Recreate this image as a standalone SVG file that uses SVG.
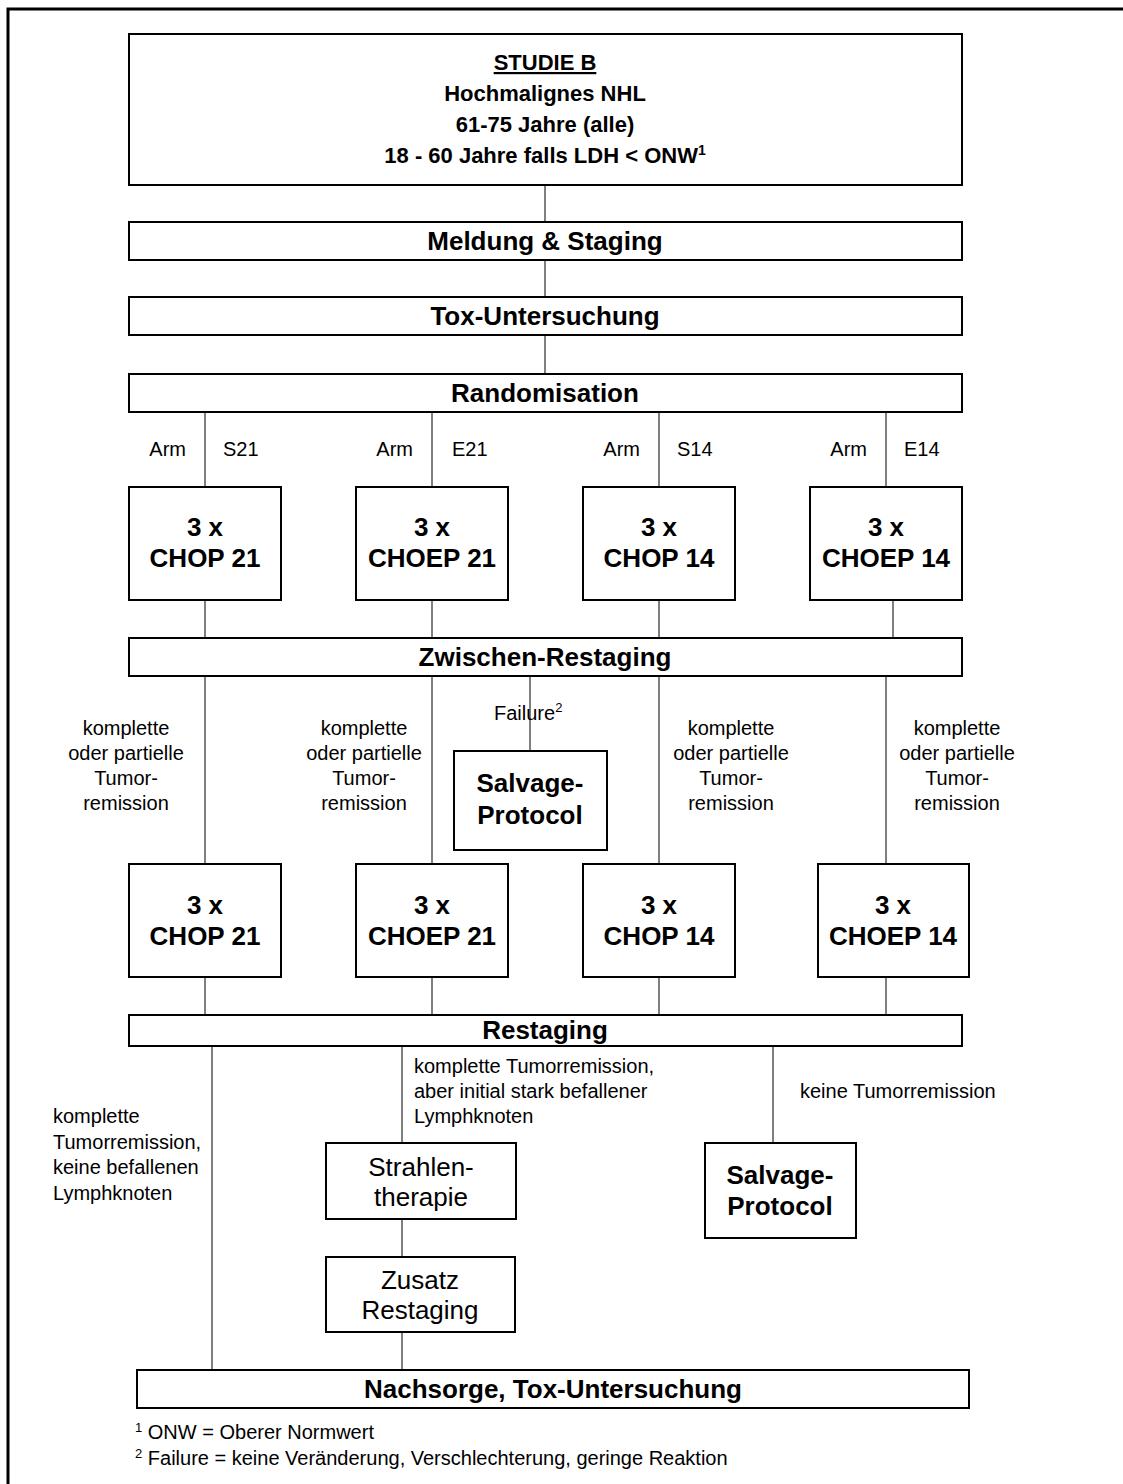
<svg xmlns="http://www.w3.org/2000/svg" width="1123" height="1484" viewBox="0 0 1123 1484">
  <style>
    .box { fill: #fff; stroke: #000; stroke-width: 2; }
    .frame { fill: none; stroke: #000; stroke-width: 3; }
    .wire { stroke: #000; stroke-width: 1; fill: none; }
    text { font-family: "Liberation Sans", Arial, sans-serif; fill: #000; }
    .title { font-size: 22px; font-weight: bold; text-anchor: middle; }
    .head { font-size: 26px; font-weight: bold; text-anchor: middle; }
    .plain { font-size: 26px; text-anchor: middle; }
    .lbl { font-size: 20px; }
    .mid { text-anchor: middle; }
    .end { text-anchor: end; }
    .note { font-size: 20px; }
  </style>

  <rect width="1123" height="1484" fill="#fff"/>
  <!-- page frame (open to the right and bottom) -->
  <path class="frame" d="M8 1484 V9 H1123"/>

  <!-- connectors -->
  <g id="connectors">
    <path class="wire" d="M545 185 V222 M545 260 V297 M545 335 V374"/>
    <path class="wire" d="M205 412 V487 M432 412 V487 M659 412 V487 M886 412 V487"/>
    <path class="wire" d="M205 600 V638 M432 600 V638 M659 600 V638 M893 600 V638"/>
    <path class="wire" d="M205 676 V864 M432 676 V864 M659 676 V864 M886 676 V864 M530 676 V751"/>
    <path class="wire" d="M205 977 V1015 M432 977 V1015 M659 977 V1015 M886 977 V1015"/>
    <path class="wire" d="M212 1046 V1370 M402 1046 V1143 M773 1046 V1143 M402 1219 V1257 M402 1332 V1370"/>
  </g>

  <g id="studie">
    <rect class="box" x="129" y="34" width="833" height="151"/>
    <text class="title" x="545" y="70" text-decoration="underline">STUDIE B</text>
    <text class="title" x="545" y="101">Hochmalignes NHL</text>
    <text class="title" x="545" y="132">61-75 Jahre (alle)</text>
    <text class="title" x="545" y="163">18 - 60 Jahre falls LDH &lt; ONW<tspan font-size="14" dy="-8">1</tspan></text>
  </g>

  <g id="meldung">
    <rect class="box" x="129" y="222" width="833" height="38"/>
    <text class="head" x="545" y="250">Meldung &amp; Staging</text>
  </g>

  <g id="tox">
    <rect class="box" x="129" y="297" width="833" height="38"/>
    <text class="head" x="545" y="325">Tox-Untersuchung</text>
  </g>

  <g id="randomisation">
    <rect class="box" x="129" y="374" width="833" height="38"/>
    <text class="head" x="545" y="402">Randomisation</text>
  </g>

  <g id="arm-labels">
    <text class="lbl end" x="186" y="456">Arm</text>
    <text class="lbl" x="223" y="456">S21</text>
    <text class="lbl end" x="413" y="456">Arm</text>
    <text class="lbl" x="452" y="456">E21</text>
    <text class="lbl end" x="640" y="456">Arm</text>
    <text class="lbl" x="677" y="456">S14</text>
    <text class="lbl end" x="867" y="456">Arm</text>
    <text class="lbl" x="904" y="456">E14</text>
  </g>

  <g id="s21-a">
    <rect class="box" x="129" y="487" width="152" height="113"/>
    <text class="head" x="205" y="536">3 x</text>
    <text class="head" x="205" y="567">CHOP 21</text>
  </g>
  <g id="e21-a">
    <rect class="box" x="356" y="487" width="152" height="113"/>
    <text class="head" x="432" y="536">3 x</text>
    <text class="head" x="432" y="567">CHOEP 21</text>
  </g>
  <g id="s14-a">
    <rect class="box" x="583" y="487" width="152" height="113"/>
    <text class="head" x="659" y="536">3 x</text>
    <text class="head" x="659" y="567">CHOP 14</text>
  </g>
  <g id="e14-a">
    <rect class="box" x="810" y="487" width="152" height="113"/>
    <text class="head" x="886" y="536">3 x</text>
    <text class="head" x="886" y="567">CHOEP 14</text>
  </g>

  <g id="zwischen">
    <rect class="box" x="129" y="638" width="833" height="38"/>
    <text class="head" x="545" y="666">Zwischen-Restaging</text>
  </g>

  <g id="remission-labels">
    <text class="lbl mid" x="126" y="735">komplette</text>
    <text class="lbl mid" x="126" y="760">oder partielle</text>
    <text class="lbl mid" x="126" y="785">Tumor-</text>
    <text class="lbl mid" x="126" y="810">remission</text>
    <text class="lbl mid" x="364" y="735">komplette</text>
    <text class="lbl mid" x="364" y="760">oder partielle</text>
    <text class="lbl mid" x="364" y="785">Tumor-</text>
    <text class="lbl mid" x="364" y="810">remission</text>
    <text class="lbl mid" x="731" y="735">komplette</text>
    <text class="lbl mid" x="731" y="760">oder partielle</text>
    <text class="lbl mid" x="731" y="785">Tumor-</text>
    <text class="lbl mid" x="731" y="810">remission</text>
    <text class="lbl mid" x="957" y="735">komplette</text>
    <text class="lbl mid" x="957" y="760">oder partielle</text>
    <text class="lbl mid" x="957" y="785">Tumor-</text>
    <text class="lbl mid" x="957" y="810">remission</text>
    <text class="lbl" x="494" y="720">Failure<tspan font-size="13" dy="-8">2</tspan></text>
  </g>

  <g id="salvage-a">
    <rect class="box" x="454" y="751" width="153" height="99"/>
    <text class="head" x="530" y="792">Salvage-</text>
    <text class="head" x="530" y="824">Protocol</text>
  </g>

  <g id="s21-b">
    <rect class="box" x="129" y="864" width="152" height="113"/>
    <text class="head" x="205" y="914">3 x</text>
    <text class="head" x="205" y="945">CHOP 21</text>
  </g>
  <g id="e21-b">
    <rect class="box" x="356" y="864" width="152" height="113"/>
    <text class="head" x="432" y="914">3 x</text>
    <text class="head" x="432" y="945">CHOEP 21</text>
  </g>
  <g id="s14-b">
    <rect class="box" x="583" y="864" width="152" height="113"/>
    <text class="head" x="659" y="914">3 x</text>
    <text class="head" x="659" y="945">CHOP 14</text>
  </g>
  <g id="e14-b">
    <rect class="box" x="818" y="864" width="151" height="113"/>
    <text class="head" x="893" y="914">3 x</text>
    <text class="head" x="893" y="945">CHOEP 14</text>
  </g>

  <g id="restaging">
    <rect class="box" x="129" y="1015" width="833" height="31"/>
    <text class="head" x="545" y="1039">Restaging</text>
  </g>

  <g id="outcome-labels">
    <text class="lbl" x="53" y="1123">komplette</text>
    <text class="lbl" x="53" y="1149">Tumorremission,</text>
    <text class="lbl" x="53" y="1174">keine befallenen</text>
    <text class="lbl" x="53" y="1200">Lymphknoten</text>
    <text class="lbl" x="414" y="1073">komplette Tumorremission,</text>
    <text class="lbl" x="414" y="1098">aber initial stark befallener</text>
    <text class="lbl" x="414" y="1123">Lymphknoten</text>
    <text class="lbl" x="800" y="1098">keine Tumorremission</text>
  </g>

  <g id="strahlentherapie">
    <rect class="box" x="326" y="1143" width="190" height="76"/>
    <text class="plain" x="421" y="1176">Strahlen-</text>
    <text class="plain" x="421" y="1206">therapie</text>
  </g>

  <g id="salvage-b">
    <rect class="box" x="705" y="1143" width="151" height="95"/>
    <text class="head" x="780" y="1184">Salvage-</text>
    <text class="head" x="780" y="1215">Protocol</text>
  </g>

  <g id="zusatz">
    <rect class="box" x="326" y="1257" width="189" height="75"/>
    <text class="plain" x="420" y="1289">Zusatz</text>
    <text class="plain" x="420" y="1319">Restaging</text>
  </g>

  <g id="nachsorge">
    <rect class="box" x="137" y="1370" width="832" height="38"/>
    <text class="head" x="553" y="1398">Nachsorge, Tox-Untersuchung</text>
  </g>

  <g id="footnotes">
    <text class="note" x="135" y="1439"><tspan font-size="13" dy="-7">1</tspan><tspan dy="7"> ONW = Oberer Normwert</tspan></text>
    <text class="note" x="135" y="1465"><tspan font-size="13" dy="-7">2</tspan><tspan dy="7"> Failure = keine Veränderung, Verschlechterung, geringe Reaktion</tspan></text>
  </g>
</svg>
